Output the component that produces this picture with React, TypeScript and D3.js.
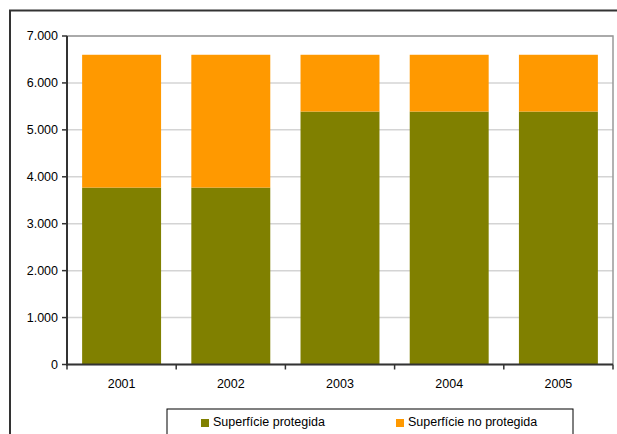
import React from "react";
import * as d3 from "d3";

const years = ["2001", "2002", "2003", "2004", "2005"];
const protegida = [3770, 3770, 5390, 5390, 5390];
const noProtegida = [2830, 2830, 1210, 1210, 1210];
const yTicks = [0, 1000, 2000, 3000, 4000, 5000, 6000, 7000];
const seriesNames = ["Superfície protegida", "Superfície no protegida"];
const colors = ["#808000", "#FF9900"];

export default function App() {
  const W = 617, H = 434;
  const left = 67, right = 613, top = 36, bottom = 364.5;
  const x = d3.scaleBand().domain(years).range([left, right]).paddingInner(0.277).paddingOuter(0.1385);
  const y = d3.scaleLinear().domain([0, 7000]).range([bottom, top]);
  const fmt = (v: number) => (v === 0 ? "0" : d3.format(",")(v).replace(/,/g, "."));
  const step = x.step();
  const font = "'Liberation Sans', Arial, sans-serif";
  return (
    <svg width={W} height={H} style={{ position: "absolute", left: 0, top: 0 }} fontFamily={font}>
      <rect x={0} y={0} width={W} height={H} fill="#fff" />
      <path d={`M10,${H} V10.5 H${W}`} fill="none" stroke="#333" strokeWidth={2} />
      {yTicks.map((t) => (
        <line key={"g" + t} x1={left} x2={right} y1={y(t)} y2={y(t)} stroke="#d4d4d4" strokeWidth={1.5} />
      ))}
      <path d={`M${left},${top} H${right} V${bottom}`} fill="none" stroke="#999" strokeWidth={1.5} />
      {years.map((yr, i) => (
        <g key={yr}>
          <rect x={x(yr)} y={y(protegida[i])} width={x.bandwidth()} height={bottom - y(protegida[i])} fill={colors[0]} />
          <rect x={x(yr)} y={y(protegida[i] + noProtegida[i])} width={x.bandwidth()} height={y(protegida[i]) - y(protegida[i] + noProtegida[i])} fill={colors[1]} />
        </g>
      ))}
      <line x1={left} x2={left} y1={top} y2={bottom + 1} stroke="#333" strokeWidth={2} />
      <line x1={left - 1} x2={right} y1={bottom} y2={bottom} stroke="#333" strokeWidth={2} />
      {yTicks.map((t) => (
        <g key={"t" + t}>
          <line x1={left - 5} x2={left} y1={y(t)} y2={y(t)} stroke="#333" strokeWidth={1.5} />
          <text x={left - 9} y={y(t)} dy="0.35em" textAnchor="end" fontSize={12.5} fill="#000">{fmt(t)}</text>
        </g>
      ))}
      {years.map((yr, i) => (
        <g key={"x" + yr}>
          <line x1={left + step * i} x2={left + step * i} y1={bottom} y2={bottom + 5} stroke="#333" strokeWidth={1.5} />
          <text x={(x(yr) as number) + x.bandwidth() / 2} y={388} textAnchor="middle" fontSize={12.5} fill="#000">{yr}</text>
        </g>
      ))}
      <line x1={right} x2={right} y1={bottom} y2={bottom + 5} stroke="#333" strokeWidth={1.5} />
      <rect x={167} y={409} width={406} height={40} fill="#fff" stroke="#000" strokeWidth={1} />
      {seriesNames.map((s, i) => (
        <g key={s}>
          <rect x={i === 0 ? 201 : 396} y={419} width={8} height={8} fill={colors[i]} />
          <text x={i === 0 ? 213 : 408} y={426} fontSize={12.5} fill="#000">{s}</text>
        </g>
      ))}
    </svg>
  );
}
